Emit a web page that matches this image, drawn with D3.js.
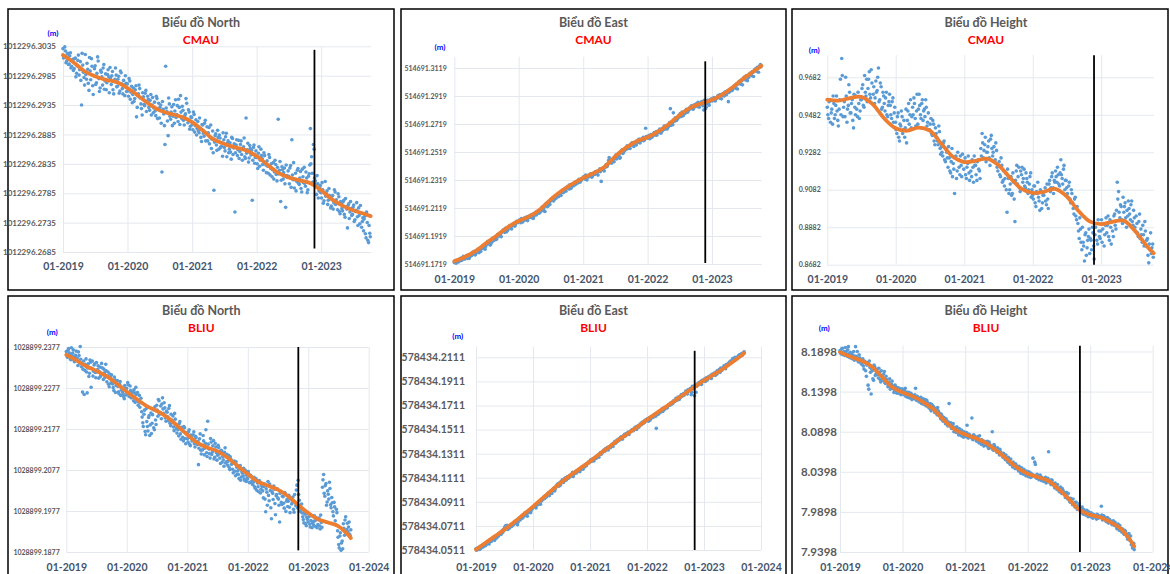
<!DOCTYPE html>
<html>
<head>
<meta charset="utf-8">
<script src="https://cdn.jsdelivr.net/npm/d3@7"></script>
<style>
  body { margin: 0; background: #fff; }
  svg { display: block; font-family: Lato, "Open Sans", sans-serif; }
</style>
</head>
<body>
<svg id="chart" width="1170" height="574"></svg>
<script>
// axis minimum of each panel (m); dot and trend values below are mm above it
const cmauNorthBase = 1012296.2685;
const cmauEastBase = 514691.1719;
const cmauHeightBase = 0.8682;
const bliuNorthBase = 1028899.1877;
const bliuEastBase = 578434.0511;
const bliuHeightBase = 7.9398;

const cmauNorthTicks = ["1012296.2685", "1012296.2735", "1012296.2785", "1012296.2835", "1012296.2885", "1012296.2935", "1012296.2985", "1012296.3035"];
const cmauEastTicks = ["514691.1719", "514691.1919", "514691.2119", "514691.2319", "514691.2519", "514691.2719", "514691.2919", "514691.3119"];
const cmauHeightTicks = ["0.8682", "0.8882", "0.9082", "0.9282", "0.9482", "0.9682"];
const bliuNorthTicks = ["1028899.1877", "1028899.1977", "1028899.2077", "1028899.2177", "1028899.2277", "1028899.2377"];
const bliuEastTicks = ["578434.0511", "578434.0711", "578434.0911", "578434.1111", "578434.1311", "578434.1511", "578434.1711", "578434.1911", "578434.2111"];
const bliuHeightTicks = ["7.9398", "7.9898", "8.0398", "8.0898", "8.1398", "8.1898"];

const topYears = ["01-2019", "01-2020", "01-2021", "01-2022", "01-2023"];
const bottomYears = ["01-2019", "01-2020", "01-2021", "01-2022", "01-2023", "01-2024"];

// weekly positions from 2019-01-01 (one row per year), mm above axis minimum
const cmauNorthMm = [
  34.6,33.1,34.2,32.5,33.8, 32.0,33.9,31.6,32.8, 31.2,33.0,30.4,32.6, 30.1,32.4,25.0,31.8,29.7, 33.6,29.4,31.1,27.5, 30.8,32.9,28.3,30.0, 31.7,28.8,33.2,29.5,27.9, 30.6,28.4,31.9,29.1, 27.6,30.2,29.8,31.4, 28.5,30.7,26.9,29.4,30.1, 28.2,29.9,27.4,30.5, 27.8,29.2,26.6,28.7,
  28.6,26.5,29.1,27.2,25.4, 27.9,26.1,28.3,24.6, 26.9,27.8,25.2,23.3, 26.4,24.9,27.5,25.6,26.0, 24.1,26.8,25.0,23.7, 25.5,23.2,26.1,24.4, 22.8,25.0,13.6,24.3,21.5, 31.6,23.9,19.8,25.2, 22.6,24.7,23.1,21.9, 25.9,23.4,22.2,24.6,26.6, 22.7,24.1,21.6,23.5, 25.3,22.0,23.8,21.4,
  22.9,20.8,23.4,21.5,19.9, 22.2,20.3,21.0,18.8, 21.6,19.7,22.4,20.1, 18.9,21.2,19.5,17.6,20.6, 10.5,19.8,18.2,20.7, 17.5,19.4,18.0,16.3, 19.1,17.2,20.2,18.5,16.9, 18.6,15.8,19.3,17.7, 6.8,18.2,16.4,19.0, 17.1,18.9,15.6,17.9,16.2, 22.8,17.4,15.3,18.1, 16.5,8.8,17.8,15.1,
  17.2,15.0,16.8,14.6,17.5, 15.9,13.9,16.4,14.8, 15.5,13.4,16.1,14.2, 12.8,15.2,13.6,14.9,12.1, 22.6,13.9,8.6,14.5, 12.4,14.3,7.6,13.0, 13.8,11.6,14.7,19.1,12.3, 10.9,13.4,12.0,14.2, 11.5,13.7,10.2,12.8, 14.4,11.2,12.6,10.6,13.3, 21.0,16.2,11.9,17.5, 12.1,9.8,11.6,10.4,
  11.3,9.2,10.6,8.7,12.0, 9.9,8.1,10.8,9.3, 7.8,9.6,8.4,10.2, 8.9,7.2,9.4,6.5,8.1, 7.0,8.8,5.9,7.6, 4.1,8.2,6.8,7.4, 6.4,8.0,5.5,7.1,6.0, 7.5,4.8,6.6,5.2, 3.6,6.1,2.4,5.0, 1.6,3.2
];
const cmauEastMm = [
  1,2.5,1.5,3,2, 4,2.5,3.5,5, 4.5,6,5,4, 7,6,8.5,7.5,6.5, 9,10.5,8,10, 11.5,13,12,10.5, 14,16,15,13.5,16.5, 17,18.5,19,17.5, 21,20,22,19.5, 23,24.5,22.5,25,24, 26,27.5,25.5,28, 28.5,27,29.5,30,
  30,31.5,29.5,32,31, 33,31.5,32.5,34, 33.5,35,34,32.5, 35.5,37,36,38,36.5, 39,40.5,38,41, 42,43.5,41.5,44, 45,46.5,47.5,46,48, 48.5,50,49,51, 51.5,53,52,54, 54,55.5,53.5,56,55, 57,56,58.5,57.5, 59,60.5,58.5,60,
  61,62.5,60.5,62,63, 63.5,62.5,64,63, 65,64,66,65.5, 66.5,68,59,67.5,68.5, 69,71,70,74, 72.5,74,73,75, 76,78,77,79,75.5, 80,81.5,79.5,82, 83,84.5,82.5,84, 85,86.5,84.5,87,86, 88,87,89,88.5, 89.5,90.5,88.5,97,
  91,90,92,91.5,90.5, 92.5,94,93,92, 95,94,96,95.5, 97,98.5,96.5,99,97.5, 100,111,101,99.5, 103,104.5,102.5,104, 106,107.5,105.5,108,107, 109,110.5,108.5,110, 112,113,111.5,113.5, 113,114.5,112.5,115,114, 115.5,114.5,110,116.5, 112,117,115.5,116,
  117.5,116.5,118.5,117,118, 119,120.5,118.5,120, 121,122,120.5,122.5, 123,116,124.5,125,124, 126,127.5,125.5,128, 129,130.5,128.5,131, 132,133.5,131.5,134,133, 135,136.5,134.5,137, 138,139.5,137.5,140, 141,142.5
];
const cmauHeightMm = [
  84,78,88,81,75, 86,80,90,77, 83,99,110,79, 87,100,76,85,92, 81,88,73,84, 90,79,86,82, 88,96,84,92,99, 94,103,89,97, 91,86,98,93, 105,88,95,84,90, 82,92,79,87, 85,78,89,81,
  76,70,81,66,74, 79,72,68,83, 77,86,80,73, 84,89,78,82,75, 91,80,86,77, 83,88,74,81, 72,78,69,75,64, 70,66,74,62, 63,58,66,55, 60,52,57,49,62, 54,38,58,50, 56,48,53,59,
  51,57,46,54,49, 55,47,52,58, 53,45,56,50, 62,70,57,64,55, 60,66,53,69, 58,63,56,61, 50,55,47,53,45, 42,49,28,46, 40,47,38,44, 23,50,43,52,39, 48,44,51,41, 46,38,43,49,
  40,35,42,31,38, 36,29,39,33, 37,41,32,35, 43,39,47,41,45, 50,44,48,42, 56,46,51,40, 45,38,42,35,40, 33,27,36,24, 22,14,19,8, 12,2,17,9,15, 6,13,20,10, 16,22,11,18,
  14,24,19,10,21, 17,26,13,20, 23,15,27,19, 44,39,25,31,22, 28,33,20,26, 30,24,34,21, 25,18,22,15,27, 19,12,16,23, 10,14,1,8, 6,11
];
const bliuNorthMm = [
  48.9,47.5,49.6,48.2,46.9, 47.8,49.3,46.4,48.0, 46.7,45.5,47.9,50.1, 45.2,39.0,46.6,44.3,47.1, 38.8,45.9,43.6,46.3, 44.8,42.9,45.6,43.8, 46.2,44.5,42.4,45.1,43.3, 44.9,42.1,43.7,45.8, 41.5,43.9,40.3,42.6, 43.2,41.0,39.4,42.0,40.6, 41.8,39.1,40.9,38.2, 40.2,38.6,37.4,39.8,
  39.9,41.3,38.1,40.5,37.6, 39.0,36.9,38.8,40.2, 37.1,35.8,38.2,36.4, 34.2,31.5,33.6,29.4,35.0, 30.6,32.8,28.4,33.9, 31.4,34.7,29.8,32.2, 35.8,33.1,36.9,34.0,32.5, 37.6,33.8,35.2,31.9, 34.1,32.0,35.7,30.8, 31.5,33.2,29.6,32.4,30.1, 30.9,28.3,31.8,27.5, 29.6,27.1,30.3,26.4,
  28.9,26.8,29.8,25.9,28.1, 27.4,29.3,25.6,27.9, 26.2,21.3,27.6,24.8, 25.9,28.4,23.7,26.5,24.2, 31.9,25.1,22.9,26.8, 24.4,27.2,23.1,25.6, 22.4,26.0,23.9,21.6,24.7, 23.3,20.9,25.4,22.0, 21.2,23.6,20.1,22.6, 21.5,19.3,22.2,18.6,20.7, 19.8,17.9,21.1,18.3, 19.2,20.4,17.4,18.8,
  18.1,19.6,16.9,18.7,17.3, 16.4,18.2,15.5,17.6, 16.8,14.7,17.1,15.3, 15.9,13.2,16.6,9.8,14.6, 17.2,12.5,15.0,8.1, 14.3,16.1,11.8,13.7, 15.4,12.9,7.3,14.8,11.6, 13.5,10.7,14.2,12.4, 11.1,13.8,9.6,12.9, 12.2,10.4,14.0,11.3,16.3, 17.5,12.6,9.9,11.7, 8.6,7.1,9.2,6.4,
  8.0,9.4,6.8,7.7,5.9, 7.4,8.8,6.2,7.9, 6.7,8.3,5.6,7.2, 15.8,18.9,13.6,16.7,12.2, 14.1,17.0,11.5,13.3, 9.8,12.1,7.6,10.4, 5.2,1.8,3.9,0.4,2.7, 6.9,4.1,8.6,5.5, 4.9,7.3,3.8
];
const bliuEastMm = [
  1,0,2,1,3, 2,4,3,5, 4,6,7,5, 8,7,9,10,8, 11,10,12,13, 14,13,16,17, 18,20,19,17,18, 19,21,20,22, 22,24,23,21, 25,27,26,28,27, 29,31,30,28, 32,33,31,34,
  35,36,37,35,38, 39,40,38,41, 42,44,43,45, 46,47,45,48,49, 50,51,49,52, 54,55,53,56, 57,58,56,59,60, 59,61,60,62, 62,63,61,64, 65,64,66,67,65, 68,69,67,70, 71,70,72,73,
  73,75,74,76,74, 77,76,78,79, 79,81,80,82, 83,82,84,85,83, 86,85,87,88, 88,90,89,91, 92,91,93,94,92, 94,96,95,97, 97,96,98,99, 100,99,101,102,100, 103,102,104,105, 106,105,107,108,
  108,109,107,110,109, 111,110,112,113, 101,114,113,115, 116,117,115,118,117, 119,118,120,121, 122,121,123,124, 124,126,125,127,125, 127,129,128,130, 130,132,131,133, 133,134,129,136,135, 128,137,136,138, 139,138,140,141,
  141,142,140,143,142, 144,143,145,146, 146,147,145,148, 149,148,150,151,149, 151,153,152,154, 154,155,156,157, 157,159,158,160,159, 160,161,162,161, 163,162,164
];
const bliuHeightMm = [
  251,247,254,249,245, 250,244,256,247, 242,248,245,239, 256,243,238,246,240, 234,241,228,237, 219,236,203,230, 197,226,214,231,222, 228,217,224,212, 220,214,225,210, 215,206,212,203,209, 204,199,208,201, 205,198,202,196,
  203,197,201,194,199, 196,192,198,190, 195,191,204,189, 193,187,191,185,189, 184,190,182,186, 180,185,176,183, 181,174,178,171,176, 173,166,170,163, 167,160,164,157, 185,159,154,157,150, 155,149,153,146, 151,145,149,143,
  148,144,158,142,146, 143,167,140,145, 141,138,144,136, 139,134,137,132,135, 133,138,129,134, 130,150,127,132, 128,124,127,121,125, 122,118,120,115, 117,112,115,109, 111,106,110,104,108, 105,101,104,98, 102,97,100,95,
  98,94,99,93,96, 117,95,109,92, 94,90,96,89, 92,88,91,86,90, 125,87,84,89, 85,80,83,78, 79,75,81,73,77, 72,68,74,66, 67,62,65,59, 60,56,62,53,58, 54,49,56,47, 50,46,52,44,
  48,44,47,42,46, 45,41,46,43, 44,57,40,45, 41,38,43,36,40, 37,34,39,33, 33,29,35,27, 30,25,28,22,26, 21,16,23,14, 9,5,11
];

// second sample of each week (three days after the first), same units
const cmauNorthMidMm = [
  33.0,34.9,32.2,33.7,31.9, 33.4,31.3,32.6,30.9, 32.9,29.8,31.7,33.5, 31.0,29.2,33.8,30.6,28.4, 30.2,32.1,28.7,33.1, 29.3,31.6,26.8,31.2, 28.5,30.4,32.5,27.3,30.9, 29.8,31.3,27.7,30.3, 28.8,31.0,27.1,29.6, 30.0,27.6,29.0,31.3,28.1, 29.4,27.0,30.8,28.6, 26.9,28.4,30.0,27.3,
  27.4,29.5,26.0,28.2,26.8, 25.6,27.6,23.0,26.6, 28.4,26.2,24.4,27.1, 25.1,27.0,23.9,26.5,24.6, 25.8,23.3,26.3,24.5, 24.0,26.5,22.7,25.3, 24.6,21.9,25.6,23.5,18.3, 24.5,22.3,26.2,23.1, 23.8,21.5,25.1,24.0, 22.9,24.9,26.0,21.7,23.8, 24.8,22.4,23.2,26.1, 22.6,24.2,20.9,23.0,
  21.7,23.8,20.4,22.5,21.0, 20.6,22.8,19.5,21.7, 20.2,21.9,18.9,21.3, 20.3,18.4,21.6,19.2,16.9, 18.7,20.1,17.3,19.5, 19.9,17.8,18.6,20.3, 17.8,19.6,16.2,18.9,17.5, 17.0,19.5,16.6,18.4, 16.9,19.1,17.4,15.9, 18.3,16.6,17.7,19.4,15.9, 16.8,18.5,16.0,17.6, 17.3,15.6,18.2,16.1,
  16.1,14.2,17.9,15.6,16.4, 14.9,16.9,15.2,13.5, 14.6,16.6,13.1,15.0, 14.0,12.4,15.6,13.2,14.4, 13.3,15.4,12.2,14.0, 13.5,11.6,14.8,12.7, 12.9,14.3,11.0,13.1,15.2, 12.3,10.4,13.9,11.7, 12.6,10.8,14.1,11.8, 11.7,13.6,10.1,12.9,14.8, 15.0,13.4,18.3,12.6, 11.5,13.0,9.2,11.0,
  10.1,11.8,8.3,10.0,9.5, 10.4,8.8,9.6,7.5, 9.0,7.3,10.6,8.1, 8.3,9.9,6.9,8.6,7.4, 8.5,6.4,9.1,7.3, 7.9,5.7,8.6,6.2, 7.6,5.2,6.9,8.4,4.5, 6.2,7.9,4.2,5.8, 5.6,3.1,6.8,2.0, 4.5,2.6
];
const cmauEastMidMm = [
  2,0.5,2.5,1.5,3.5, 3,4.5,5.5,3.5, 5.5,4,6.5,5, 6,8,7,9,7.5, 8.5,9.5,11,9, 12,11,13.5,12.5, 15,14.5,16,14,15.5, 18,17,19.5,18, 20,21.5,20.5,22.5, 24,23.5,25.5,23,24.5, 27,26.5,25,27.5, 29,28,30.5,29.5,
  31,30.5,32.5,30,31.5, 32,33.5,31,33, 34.5,33,35.5,34, 36,35,37.5,36.5,37, 38.5,40,39.5,37.5, 43,41,44.5,42.5, 45.5,47,45,48.5,47, 49.5,48,50.5,49, 52.5,51,53.5,52, 55,54.5,56.5,54,55.5, 56.5,58,57,59, 58,60,59.5,61,
  62,61.5,63.5,60,62, 63,64.5,62,64, 64.5,66,65,63.5, 67,66,68,67.5,66.5, 70,69.5,71.5,76, 73.5,72,74.5,73, 76.5,75,77.5,78,76, 81,79,80.5,81.5, 82,83.5,84,82.5, 86,85.5,84,86.5,85, 87.5,89,86.5,88, 89,88,90,91,
  90,91.5,89.5,92.5,91, 93,92,94.5,93.5, 94.5,96.5,93.5,95, 96,98,97.5,96.5,98.5, 101,99,100.5,108, 102,104,103.5,105, 105,106.5,108.5,106,107.5, 108,110,109.5,111, 111,112.5,110.5,112, 114,113.5,115.5,112,114.5, 116,113,117,111, 114.5,116.5,113.5,117.5,
  118,117,119,116.5,118.5, 120,119.5,121,118, 121.5,120,123,121, 124,122.5,123.5,125.5,124.5, 127,126.5,128.5,125, 130,129.5,131.5,128, 133,132.5,134.5,131,133.5, 136,135.5,137.5,134, 139,138.5,140.5,137, 141.5,141
];
const cmauHeightMidMm = [
  80,87,76,83,90, 78,85,82,74, 88,80,101,84, 79,90,83,96,81, 86,77,91,80, 83,92,78,88, 94,85,101,90,87, 99,91,104,86, 95,89,92,100, 87,97,83,92,86, 89,80,85,91, 80,87,76,84,
  72,79,68,75,82, 70,77,73,65, 82,75,88,79, 80,86,74,91,83, 85,78,88,82, 79,84,76,72, 75,70,77,66,73, 68,64,71,59, 60,65,56,62, 57,63,50,55,47, 51,57,46,60, 52,58,47,55,
  55,48,52,58,45, 50,56,44,53, 48,55,51,46, 58,65,61,68,60, 63,57,67,62, 60,55,65,52, 53,48,57,44,50, 46,40,51,38, 43,37,49,35, 45,53,47,41,50, 52,46,42,49, 44,40,47,36,
  37,42,33,39,44, 34,40,30,37, 39,34,43,30, 45,41,49,38,44, 47,52,43,49, 48,43,53,45, 41,36,44,33,38, 30,35,26,31, 18,25,12,20, 10,16,5,13,19, 14,8,17,3, 20,13,24,15,
  18,12,22,16,25, 21,15,24,11, 18,26,21,29, 35,28,32,24,36, 31,25,29,34, 27,32,23,29, 20,26,17,23,14, 16,21,10,18, 13,5,11,17, 9,4
];
const bliuNorthMidMm = [
  47.9,49.2,48.6,47.1,49.8, 48.5,46.9,47.6,49.0, 47.3,48.8,46.1,47.0, 46.0,44.6,38.4,45.8,43.9, 44.9,42.8,46.8,40.2, 46.6,44.1,45.9,42.5, 43.9,45.4,44.0,42.8,46.0, 43.3,44.6,42.6,44.2, 42.9,40.9,43.4,41.2, 41.9,40.1,42.7,38.9,41.3, 40.4,38.6,41.6,39.5, 39.1,37.9,40.6,38.3,
  38.6,40.8,37.9,39.4,38.2, 37.8,39.6,36.5,38.4, 38.9,36.6,35.3,37.5, 32.9,30.6,34.6,28.6,31.8, 29.5,33.3,31.0,28.9, 33.5,30.3,35.4,31.1, 34.6,37.2,33.6,35.6,36.1, 34.9,36.4,32.7,34.4, 33.0,35.0,31.4,33.6, 32.1,30.5,33.8,31.1,29.0, 29.8,31.3,28.8,30.4, 28.0,30.6,27.7,29.1,
  27.6,29.3,26.3,28.5,27.1, 28.6,26.4,28.2,26.9, 27.0,25.3,28.8,23.9, 24.9,27.1,25.3,29.8,23.3, 26.3,24.0,27.7,23.8, 25.9,22.7,26.5,24.2, 23.6,25.5,22.9,24.8,21.9, 22.5,24.3,21.7,23.8, 22.1,20.7,23.2,21.4, 20.2,21.9,19.7,22.0,19.0, 18.9,20.3,17.5,19.6, 18.5,17.8,19.9,17.2,
  17.8,19.0,17.0,18.4,16.6, 17.1,15.9,17.9,15.0, 15.9,17.4,14.4,16.3, 14.9,16.0,12.9,15.4,11.4, 13.8,16.6,10.8,14.7, 12.8,15.3,9.1,14.0, 13.2,11.4,14.3,12.1,13.6, 11.9,14.5,9.9,12.8, 12.4,10.9,13.1,11.7, 13.4,9.7,12.0,15.1,10.8, 14.0,11.2,10.6,9.5, 7.9,9.6,6.9,8.5,
  7.3,8.6,6.1,8.9,7.0, 6.5,7.6,8.4,5.9, 7.9,6.4,9.0,6.0, 17.6,14.3,16.2,11.4,14.9, 12.9,15.5,10.8,12.0, 8.8,11.0,6.7,9.6, 3.6,1.0,4.7,2.2,0.8, 5.8,7.8,4.6,7.0, 6.1,4.3,5.4
];
const bliuEastMidMm = [
  0,1.5,2,0.5,1.5, 3,2.5,4.5,3.5, 5,6.5,5.5,7, 7.5,9,8.5,10,9.5, 10.5,12,11.5,13, 13.5,15,14.5,16, 19,17.5,20.5,19,18, 20.5,19.5,21.5,21, 23.5,22.5,24.5,23, 26,25,27.5,26.5,28.5, 28.5,30,29.5,31, 31.5,33,32.5,34.5,
  35.5,37,36.5,38,37.5, 39.5,38.5,40.5,41.5, 43,42.5,44.5,44, 45.5,47.5,46.5,48,47, 49.5,51.5,50.5,53, 53.5,54.5,55.5,54, 56.5,58.5,57,59.5,58, 60.5,59.5,61.5,61, 62.5,64.5,63,63.5, 64.5,66,65.5,67,66.5, 67.5,68.5,69.5,69, 70.5,71.5,72,72.5,
  74,73.5,75,75.5,76, 76.5,77.5,78,77, 80,79.5,81,81.5, 82.5,84,83.5,84.5,85.5, 85.5,86.5,87.5,86, 89,88.5,90.5,90, 91.5,92.5,93.5,93,94.5, 95,94.5,96.5,96, 98,97.5,98.5,99.5, 99.5,100.5,101.5,101,102.5, 102.5,103.5,104.5,104, 105.5,106.5,106,107.5,
  108.5,107.5,109.5,108,110.5, 110.5,111.5,112,111, 113.5,112.5,114.5,114, 115.5,116.5,116,117.5,118, 118.5,119.5,120.5,120, 121.5,122.5,122,123.5, 123.5,125,124.5,126.5,126, 128,127.5,129,128.5, 130.5,131,129.5,132.5, 132.5,133.5,131,135,134, 136.5,131,137.5,137, 138.5,139.5,137.5,140,
  140.5,141.5,142.5,141,143.5, 143.5,144.5,142.5,145, 145.5,146.5,147,146, 148,149.5,147.5,150,150.5, 151.5,152,150.5,153, 153.5,154.5,155,156.5, 156.5,158,157.5,159,158.5, 159.5,160.5,161,162.5, 162,163.5,164.5
];
const bliuHeightMidMm = [
  248,253,246,250,255, 247,252,243,249, 246,241,250,244, 244,250,237,242,236, 240,232,238,226, 233,208,238,224, 228,216,233,220,225, 221,229,215,226, 216,222,211,219, 211,208,216,205,213, 207,202,205,198, 200,204,197,203,
  200,196,204,198,193, 199,194,197,193, 192,196,190,194, 190,188,193,186,191, 187,183,189,185, 182,178,184,179, 177,179,173,180,174, 169,172,165,168, 163,166,159,162, 158,161,155,160,153, 152,156,150,154, 148,152,146,150,
  145,149,143,147,145, 144,141,146,142, 143,139,141,145, 137,140,135,138,133, 135,131,137,132, 131,128,134,129, 126,130,124,128,122, 120,123,117,121, 114,118,111,116, 109,112,107,110,105, 103,107,100,105, 99,103,98,101,
  97,100,95,98,94, 96,112,93,97, 92,95,91,93, 91,89,93,88,92, 88,86,90,85, 83,86,81,84, 77,80,76,79,74, 71,74,69,73, 64,67,62,66, 59,62,57,55,60, 52,55,50,53, 48,51,47,50,
  46,49,44,47,45, 44,47,42,45, 43,46,41,44, 40,42,37,41,39, 36,38,35,37, 32,34,30,33, 27,29,24,27,23, 19,22,17,20, 10,7,3
];

// smoothed trend every two months, then the last epoch of the series
const trendMonths = ["2019-01", "2019-03", "2019-05", "2019-07", "2019-09", "2019-11",
  "2020-01", "2020-03", "2020-05", "2020-07", "2020-09", "2020-11",
  "2021-01", "2021-03", "2021-05", "2021-07", "2021-09", "2021-11",
  "2022-01", "2022-03", "2022-05", "2022-07", "2022-09", "2022-11",
  "2023-01", "2023-03", "2023-05", "2023-07", "2023-09"];
const cmauLastDay = "2023-10-08";
const bliuLastDay = "2023-09-15";
const cmauNorthTrend = [33.5, 32.3, 30.8, 29.9, 29.3, 28.9, 27.9, 26.6, 25.2, 24.1, 23.5, 23.0, 22.1, 20.7, 19.2, 18.4, 17.8, 17.3, 16.3, 14.9, 13.5, 12.7, 12.2, 11.7, 10.5, 9.0, 7.9, 7.1, 6.5, 6.1];
const cmauEastTrend = [1.9, 5.0, 9.2, 15.0, 20.6, 26.4, 30.7, 34.0, 39.0, 46.2, 52.3, 57.3, 61.4, 64.9, 69.3, 76.8, 83.1, 87.7, 90.5, 94.5, 99.9, 106.3, 111.7, 114.7, 117.3, 121.0, 126.5, 132.8, 138.2, 141.7];
const cmauHeightTrend = [88.1, 87.6, 88.9, 89.6, 85.6, 78.0, 72.8, 71.5, 73.2, 71.5, 64.5, 57.6, 54.8, 55.4, 56.6, 53.2, 46.5, 40.6, 38.3, 38.9, 40.5, 36.5, 28.8, 23.1, 21.6, 22.9, 23.5, 18.0, 10.0, 6.2];
const bliuNorthTrend = [48.1, 46.8, 45.3, 44.2, 42.9, 41.1, 39.1, 37.3, 35.6, 34.4, 32.9, 30.8, 28.6, 26.7, 25.5, 24.6, 23.0, 21.0, 19.0, 17.2, 16.2, 15.2, 13.6, 11.5, 9.5, 8.0, 7.2, 6.3, 4.1, 3.4];
const bliuEastTrend = [0.3, 5.8, 11.3, 16.9, 23.0, 29.5, 36.0, 42.9, 49.6, 56.3, 62.4, 68.0, 73.6, 79.5, 85.4, 91.3, 96.7, 102.3, 108.2, 113.5, 118.8, 124.3, 130.0, 135.2, 140.9, 145.4, 150.3, 156.0, 161.8, 163.6];
const bliuHeightTrend = [249.2, 243.7, 239.0, 231.8, 218.8, 205.7, 199.0, 194.0, 187.0, 178.0, 164.0, 152.8, 146.4, 142.0, 136.0, 126.7, 116.1, 105.0, 97.6, 93.5, 88.8, 78.4, 65.6, 52.3, 46.3, 43.3, 37.0, 28.5, 12.0, 7.1];

// event marker (vertical black line): date and mm extent
const cmauEvent = "2022-11-24";
const bliuEvent = "2022-11-02";
const cmauNorthMark = [0.6, 34.4];
const cmauEastMark = [0.7, 144.8];
const cmauHeightMark = [0, 111.8];
const bliuNorthMark = [0.4, 50];
const bliuEastMark = [0, 165.4];
const bliuHeightMark = [0, 257.2];

const DOT = '#5b9bd5', TREND = '#ed7d31', GRID = '#e4e8ee';
const parseDay = d3.timeParse('%Y-%m-%d');
const parseMonth = d3.timeParse('%Y-%m');
const parseTick = d3.timeParse('%m-%Y');
const startDay = parseDay('2019-01-01');

const panels = [
  { title: 'Biểu đồ North', station: 'CMAU', base: cmauNorthBase, top: 1012296.3035, ticks: cmauNorthTicks, dots: [cmauNorthMm, cmauNorthMidMm],
    trend: cmauNorthTrend, last: cmauLastDay, event: cmauEvent, mark: cmauNorthMark, years: topYears, xEnd: '2023-10-10',
    box: [8, 9, 394, 290], plot: [63, 46.3, 371, 252], cx: 201, titleY: 27, stationY: 44, unit: [53, 36],
    tickFont: 8, tickPad: 7, labelY: 270 },
  { title: 'Biểu đồ East', station: 'CMAU', base: cmauEastBase, top: 514691.32, ticks: cmauEastTicks, dots: [cmauEastMm, cmauEastMidMm],
    trend: cmauEastTrend, last: cmauLastDay, event: cmauEvent, mark: cmauEastMark, years: topYears, xEnd: '2023-10-10',
    box: [401, 9, 786, 290], plot: [454.3, 56.7, 761.7, 264], cx: 593.5, titleY: 27, stationY: 44, unit: [440, 50],
    tickFont: 7, tickPad: 7.6, labelY: 283 },
  { title: 'Biểu đồ Height', station: 'CMAU', base: cmauHeightBase, top: 0.98, ticks: cmauHeightTicks, dots: [cmauHeightMm, cmauHeightMidMm],
    trend: cmauHeightTrend, last: cmauLastDay, event: cmauEvent, mark: cmauHeightMark, years: topYears, xEnd: '2023-10-10',
    box: [792, 9, 1168, 290], plot: [827.3, 55.2, 1154, 264.7], cx: 986, titleY: 27, stationY: 44, unit: [814.3, 53],
    tickFont: 7, tickPad: 6.6, labelY: 283 },
  { title: 'Biểu đồ North', station: 'BLIU', base: bliuNorthBase, top: 1028899.2377, ticks: bliuNorthTicks, dots: [bliuNorthMm, bliuNorthMidMm],
    trend: bliuNorthTrend, last: bliuLastDay, event: bliuEvent, mark: bliuNorthMark, years: bottomYears, xEnd: '2024-01-01',
    box: [8, 296, 394, 590], plot: [66.3, 347, 368.7, 552], cx: 201.3, titleY: 315, stationY: 332, unit: [52.3, 334.5],
    tickFont: 7, tickPad: 6.6, labelY: 571 },
  { title: 'Biểu đồ East', station: 'BLIU', base: bliuEastBase, top: 578434.22, ticks: bliuEastTicks, dots: [bliuEastMm, bliuEastMidMm],
    trend: bliuEastTrend, last: bliuLastDay, event: bliuEvent, mark: bliuEastMark, years: bottomYears, xEnd: '2024-01-01',
    box: [401, 296, 786, 590], plot: [476, 346.6, 761, 550], cx: 593.5, titleY: 315, stationY: 332, unit: [457.7, 338.5],
    tickFont: 10.5, tickPad: 11, labelY: 571 },
  { title: 'Biểu đồ Height', station: 'BLIU', base: bliuHeightBase, top: 8.197, ticks: bliuHeightTicks, dots: [bliuHeightMm, bliuHeightMidMm],
    trend: bliuHeightTrend, last: bliuLastDay, event: bliuEvent, mark: bliuHeightMark, years: bottomYears, xEnd: '2024-01-01',
    box: [792, 296, 1168, 590], plot: [840, 345.7, 1152.7, 552], cx: 986, titleY: 315, stationY: 332, unit: [824.3, 331],
    tickFont: 11.5, tickPad: 3, labelY: 571 }
];

const svg = d3.select('#chart');

panels.forEach(p => {
  const [x0, y1, x1, y0] = p.plot;
  const g = svg.append('g');
  const x = d3.scaleTime().domain([startDay, parseDay(p.xEnd)]).range([x0, x1]);
  const y = d3.scaleLinear().domain([p.base, p.top]).range([y0, y1]);
  const mm = v => y(p.base + v / 1000);

  g.append('rect')
    .attr('x', p.box[0]).attr('y', p.box[1])
    .attr('width', p.box[2] - p.box[0]).attr('height', p.box[3] - p.box[1])
    .attr('fill', '#fff').attr('stroke', '#000').attr('stroke-width', 1.5);

  // y grid + tick labels
  g.append('g')
    .attr('transform', `translate(${x0},0)`)
    .call(d3.axisLeft(y).tickValues(p.ticks.map(Number)).tickSize(-(x1 - x0))
      .tickPadding(p.tickPad).tickFormat((d, i) => p.ticks[i]))
    .call(a => a.select('.domain').remove())
    .call(a => a.selectAll('line').attr('stroke', GRID))
    .call(a => a.selectAll('text').attr('fill', '#595959').attr('font-weight', 'bold'))
    .attr('font-family', null).attr('font-size', p.tickFont);

  // x grid + year labels
  const xFont = 10.5;
  g.append('g')
    .attr('transform', `translate(0,${y0})`)
    .call(d3.axisBottom(x).tickValues(p.years.map(parseTick)).tickSize(-(y0 - y1))
      .tickPadding(p.labelY - y0 - 0.71 * xFont).tickFormat((d, i) => p.years[i]))
    .call(a => a.select('.domain').remove())
    .call(a => a.selectAll('line').attr('stroke', GRID))
    .call(a => a.selectAll('text').attr('fill', '#44546a').attr('font-weight', 'bold'))
    .attr('font-family', null).attr('font-size', xFont);

  // two samples per week: day 0 and day 3 of each week
  p.dots.forEach((series, s) => {
    g.append('g').selectAll('circle')
      .data(series)
      .join('circle')
      .attr('cx', (d, i) => x(d3.timeDay.offset(startDay, 7 * i + 3 * s)))
      .attr('cy', d => mm(d))
      .attr('r', 1.8)
      .attr('fill', DOT);
  });

  const trendDates = trendMonths.map(parseMonth).concat([parseDay(p.last)]);
  g.append('path')
    .datum(p.trend)
    .attr('d', d3.line().x((d, i) => x(trendDates[i])).y(d => mm(d)).curve(d3.curveCatmullRom))
    .attr('fill', 'none').attr('stroke', TREND).attr('stroke-width', 3.8).attr('stroke-linecap', 'round');

  const ex = x(parseDay(p.event));
  g.append('line')
    .attr('x1', ex).attr('x2', ex)
    .attr('y1', mm(p.mark[0])).attr('y2', mm(p.mark[1]))
    .attr('stroke', '#000').attr('stroke-width', 1.8);

  g.append('text').attr('x', p.cx).attr('y', p.titleY).attr('text-anchor', 'middle')
    .attr('font-size', 12.5).attr('font-weight', 'bold').attr('fill', '#595959').text(p.title);
  g.append('text').attr('x', p.cx).attr('y', p.stationY).attr('text-anchor', 'middle')
    .attr('font-size', 12).attr('font-weight', 'bold').attr('fill', '#ff0000').text(p.station);
  g.append('text').attr('x', p.unit[0]).attr('y', p.unit[1]).attr('text-anchor', 'middle')
    .attr('font-size', 8).attr('font-weight', 'bold').attr('fill', '#0000ff').text('(m)');
});
</script>
</body>
</html>
